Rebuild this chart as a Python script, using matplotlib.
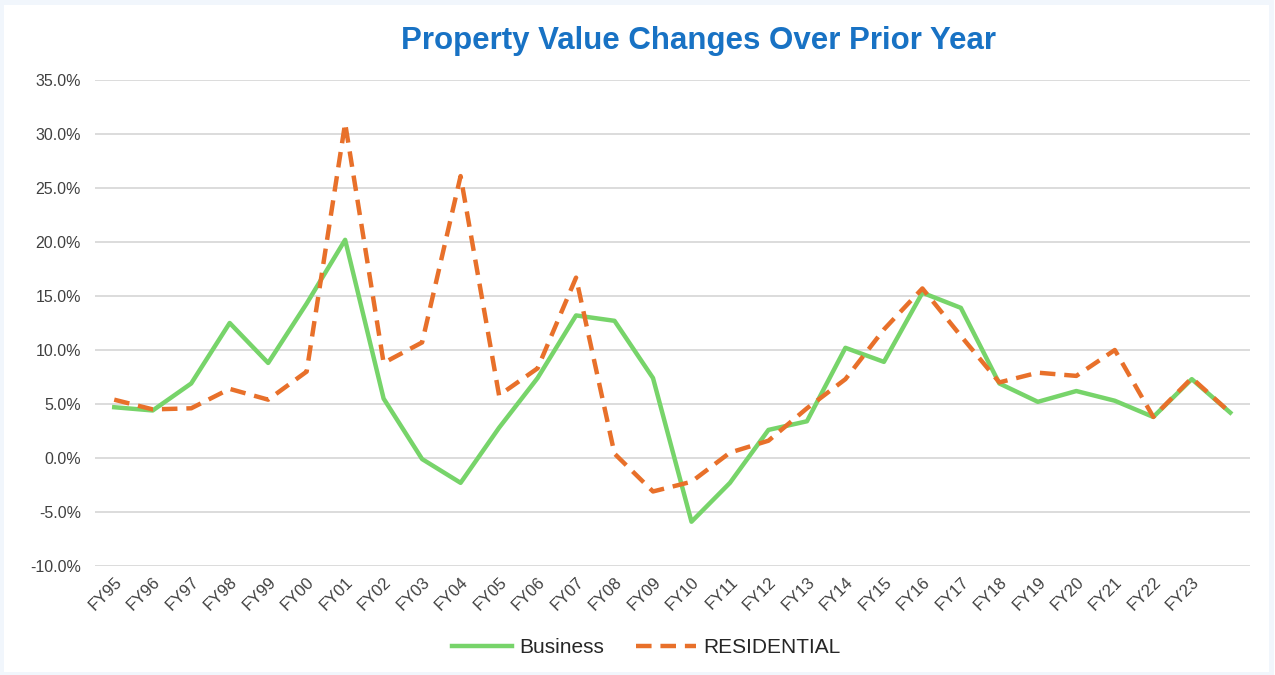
import matplotlib
matplotlib.use("Agg")
import matplotlib.pyplot as plt
from matplotlib.ticker import FuncFormatter
from matplotlib.patches import Rectangle

plt.rcParams['font.family'] = ['Liberation Sans', 'DejaVu Sans']

categories = ["FY95", "FY96", "FY97", "FY98", "FY99", "FY00", "FY01", "FY02", "FY03", "FY04",
              "FY05", "FY06", "FY07", "FY08", "FY09", "FY10", "FY11", "FY12", "FY13", "FY14",
              "FY15", "FY16", "FY17", "FY18", "FY19", "FY20", "FY21", "FY22", "FY23", ""]

business = [4.7, 4.4, 6.9, 12.5, 8.8, 14.3, 20.2, 5.5, -0.1, -2.3,
            2.8, 7.4, 13.2, 12.7, 7.4, -5.9, -2.3, 2.6, 3.4, 10.2,
            8.9, 15.3, 13.9, 6.9, 5.2, 6.2, 5.3, 3.8, 7.3, 4.2]

residential = [5.4, 4.5, 4.6, 6.4, 5.4, 8.0, 31.0, 8.8, 10.7, 26.1,
               5.8, 8.3, 16.7, 0.4, -3.1, -2.2, 0.5, 1.6, 4.6, 7.3,
               11.9, 15.7, 11.3, 7.0, 7.9, 7.6, 10.0, 3.8, 7.4, 4.2]

y_ticks = [-10, -5, 0, 5, 10, 15, 20, 25, 30, 35]

fig = plt.figure(figsize=(12.75, 6.75), dpi=100)
# faint light-blue frame around the picture
fig.patches.append(Rectangle((0.001, 0.002), 0.996, 0.995, transform=fig.transFigure,
                             fill=False, edgecolor="#F1F6FC", linewidth=3.5, zorder=0))

ax = fig.add_axes([0.0745, 0.1615, 0.9055, 0.72])

x = list(range(len(categories)))
ax.plot(x, business, color="#77D46A", linewidth=3.2, label="Business")
ax.plot(x, residential, color="#E8702A", linewidth=3.2, linestyle=(0, (3.5, 2.0)),
        label="RESIDENTIAL")

ax.set_xlim(-0.5, len(categories) - 0.5)
ax.set_ylim(-10, 35)
ax.set_yticks(y_ticks)
ax.yaxis.set_major_formatter(FuncFormatter(lambda v, p: f"{v:.1f}%"))
ax.set_xticks(x)
ax.set_xticklabels(categories, rotation=45, ha="right", va="top", rotation_mode="anchor")

ax.grid(axis="y", color="#D9D9D9", linewidth=1.3)
ax.set_axisbelow(True)
for s in ax.spines.values():
    s.set_visible(False)
ax.tick_params(axis="both", length=0, labelcolor="#404040")
ax.tick_params(axis="y", labelsize=11.5, pad=10)
ax.tick_params(axis="x", labelsize=12, pad=6)

fig.text(0.548, 0.94, "Property Value Changes Over Prior Year", ha="center", va="center",
         fontsize=22.5, fontweight="bold", color="#1872C4")

fig.legend(loc="center", bbox_to_anchor=(0.507, 0.041), ncol=2, frameon=False,
           fontsize=15, handlelength=2.9, handletextpad=0.35, columnspacing=1.5,
           labelcolor="#262626")

fig.savefig("out.png", dpi=100, facecolor="white")
